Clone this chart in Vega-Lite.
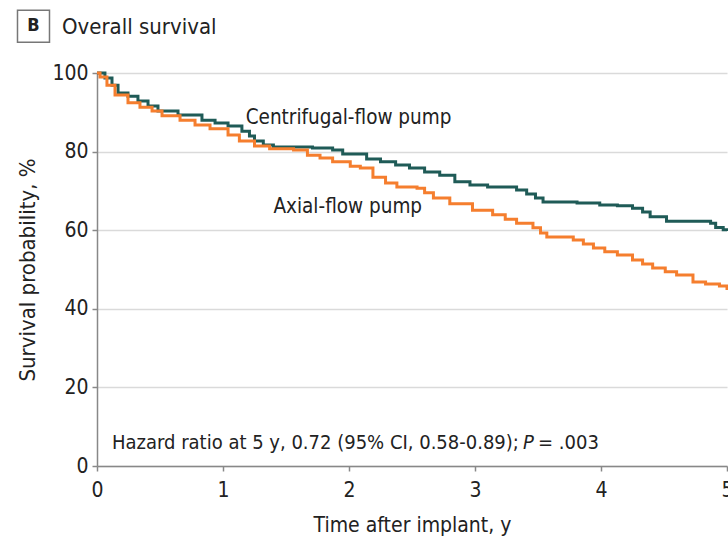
{
  "$schema": "https://vega.github.io/schema/vega-lite/v6.json",
  "width": 630,
  "height": 393,
  "autosize": {"type": "none"},
  "padding": {"left": 97, "top": 73, "right": 1, "bottom": 72},
  "background": "white",
  "config": {
    "font": "DejaVu Sans Condensed, sans-serif",
    "view": {"stroke": null},
    "axis": {
      "labelFont": "DejaVu Sans Condensed, sans-serif",
      "titleFont": "DejaVu Sans Condensed, sans-serif",
      "labelFontSize": 21,
      "titleFontSize": 21,
      "titleFontWeight": "normal",
      "labelColor": "#222",
      "titleColor": "#222",
      "domainColor": "#888",
      "tickColor": "#888",
      "domainWidth": 1.5,
      "tickWidth": 1.5,
      "tickSize": 5,
      "gridColor": "#dadada",
      "gridWidth": 1.5
    }
  },
  "datasets": {
    "km": [
      {"group": "Centrifugal-flow pump", "t": 0, "s": 100},
      {"group": "Centrifugal-flow pump", "t": 0.063, "s": 98.7},
      {"group": "Centrifugal-flow pump", "t": 0.119, "s": 96.9},
      {"group": "Centrifugal-flow pump", "t": 0.167, "s": 94.9},
      {"group": "Centrifugal-flow pump", "t": 0.246, "s": 94.1},
      {"group": "Centrifugal-flow pump", "t": 0.325, "s": 92.9},
      {"group": "Centrifugal-flow pump", "t": 0.405, "s": 91.6},
      {"group": "Centrifugal-flow pump", "t": 0.484, "s": 90.3},
      {"group": "Centrifugal-flow pump", "t": 0.643, "s": 89.3},
      {"group": "Centrifugal-flow pump", "t": 0.833, "s": 88.0},
      {"group": "Centrifugal-flow pump", "t": 0.937, "s": 87.3},
      {"group": "Centrifugal-flow pump", "t": 1.04, "s": 86.5},
      {"group": "Centrifugal-flow pump", "t": 1.15, "s": 85.2},
      {"group": "Centrifugal-flow pump", "t": 1.21, "s": 84.0},
      {"group": "Centrifugal-flow pump", "t": 1.25, "s": 82.7},
      {"group": "Centrifugal-flow pump", "t": 1.32, "s": 81.7},
      {"group": "Centrifugal-flow pump", "t": 1.40, "s": 81.2},
      {"group": "Centrifugal-flow pump", "t": 1.71, "s": 80.9},
      {"group": "Centrifugal-flow pump", "t": 1.87, "s": 80.4},
      {"group": "Centrifugal-flow pump", "t": 1.95, "s": 79.4},
      {"group": "Centrifugal-flow pump", "t": 2.14, "s": 78.1},
      {"group": "Centrifugal-flow pump", "t": 2.25, "s": 77.4},
      {"group": "Centrifugal-flow pump", "t": 2.37, "s": 76.6},
      {"group": "Centrifugal-flow pump", "t": 2.48, "s": 75.8},
      {"group": "Centrifugal-flow pump", "t": 2.60, "s": 74.8},
      {"group": "Centrifugal-flow pump", "t": 2.72, "s": 74.0},
      {"group": "Centrifugal-flow pump", "t": 2.84, "s": 72.3},
      {"group": "Centrifugal-flow pump", "t": 2.96, "s": 71.5},
      {"group": "Centrifugal-flow pump", "t": 3.10, "s": 71.0},
      {"group": "Centrifugal-flow pump", "t": 3.33, "s": 70.2},
      {"group": "Centrifugal-flow pump", "t": 3.41, "s": 69.2},
      {"group": "Centrifugal-flow pump", "t": 3.48, "s": 68.2},
      {"group": "Centrifugal-flow pump", "t": 3.54, "s": 67.2},
      {"group": "Centrifugal-flow pump", "t": 3.81, "s": 66.9},
      {"group": "Centrifugal-flow pump", "t": 3.99, "s": 66.4},
      {"group": "Centrifugal-flow pump", "t": 4.13, "s": 66.2},
      {"group": "Centrifugal-flow pump", "t": 4.25, "s": 65.6},
      {"group": "Centrifugal-flow pump", "t": 4.33, "s": 64.6},
      {"group": "Centrifugal-flow pump", "t": 4.39, "s": 63.4},
      {"group": "Centrifugal-flow pump", "t": 4.52, "s": 62.3},
      {"group": "Centrifugal-flow pump", "t": 4.87, "s": 61.8},
      {"group": "Centrifugal-flow pump", "t": 4.91, "s": 60.7},
      {"group": "Centrifugal-flow pump", "t": 4.97, "s": 60.1},
      {"group": "Centrifugal-flow pump", "t": 5.0, "s": 59.8},
      {"group": "Axial-flow pump", "t": 0, "s": 100},
      {"group": "Axial-flow pump", "t": 0.024, "s": 99.0},
      {"group": "Axial-flow pump", "t": 0.079, "s": 96.9},
      {"group": "Axial-flow pump", "t": 0.143, "s": 94.4},
      {"group": "Axial-flow pump", "t": 0.246, "s": 92.4},
      {"group": "Axial-flow pump", "t": 0.341, "s": 91.3},
      {"group": "Axial-flow pump", "t": 0.437, "s": 90.3},
      {"group": "Axial-flow pump", "t": 0.516, "s": 89.1},
      {"group": "Axial-flow pump", "t": 0.659, "s": 88.0},
      {"group": "Axial-flow pump", "t": 0.778, "s": 86.8},
      {"group": "Axial-flow pump", "t": 0.897, "s": 85.8},
      {"group": "Axial-flow pump", "t": 1.04, "s": 84.2},
      {"group": "Axial-flow pump", "t": 1.13, "s": 82.7},
      {"group": "Axial-flow pump", "t": 1.25, "s": 81.4},
      {"group": "Axial-flow pump", "t": 1.37, "s": 80.7},
      {"group": "Axial-flow pump", "t": 1.56, "s": 80.4},
      {"group": "Axial-flow pump", "t": 1.67, "s": 79.1},
      {"group": "Axial-flow pump", "t": 1.77, "s": 78.4},
      {"group": "Axial-flow pump", "t": 1.87, "s": 77.4},
      {"group": "Axial-flow pump", "t": 2.01, "s": 76.3},
      {"group": "Axial-flow pump", "t": 2.09, "s": 75.8},
      {"group": "Axial-flow pump", "t": 2.19, "s": 73.5},
      {"group": "Axial-flow pump", "t": 2.29, "s": 72.0},
      {"group": "Axial-flow pump", "t": 2.38, "s": 71.0},
      {"group": "Axial-flow pump", "t": 2.54, "s": 70.7},
      {"group": "Axial-flow pump", "t": 2.60, "s": 69.5},
      {"group": "Axial-flow pump", "t": 2.67, "s": 68.2},
      {"group": "Axial-flow pump", "t": 2.80, "s": 66.7},
      {"group": "Axial-flow pump", "t": 2.98, "s": 65.1},
      {"group": "Axial-flow pump", "t": 3.14, "s": 63.9},
      {"group": "Axial-flow pump", "t": 3.24, "s": 62.8},
      {"group": "Axial-flow pump", "t": 3.33, "s": 61.8},
      {"group": "Axial-flow pump", "t": 3.46, "s": 60.6},
      {"group": "Axial-flow pump", "t": 3.52, "s": 59.3},
      {"group": "Axial-flow pump", "t": 3.57, "s": 58.3},
      {"group": "Axial-flow pump", "t": 3.78, "s": 57.5},
      {"group": "Axial-flow pump", "t": 3.86, "s": 56.5},
      {"group": "Axial-flow pump", "t": 3.94, "s": 55.5},
      {"group": "Axial-flow pump", "t": 4.03, "s": 54.5},
      {"group": "Axial-flow pump", "t": 4.13, "s": 53.7},
      {"group": "Axial-flow pump", "t": 4.25, "s": 52.4},
      {"group": "Axial-flow pump", "t": 4.33, "s": 51.4},
      {"group": "Axial-flow pump", "t": 4.41, "s": 50.4},
      {"group": "Axial-flow pump", "t": 4.51, "s": 49.4},
      {"group": "Axial-flow pump", "t": 4.60, "s": 48.6},
      {"group": "Axial-flow pump", "t": 4.73, "s": 46.8},
      {"group": "Axial-flow pump", "t": 4.83, "s": 46.3},
      {"group": "Axial-flow pump", "t": 4.94, "s": 45.8},
      {"group": "Axial-flow pump", "t": 5.0, "s": 44.8}
    ]
  },
  "layer": [
    {
      "data": {"name": "km"},
      "mark": {"type": "line", "interpolate": "step-after", "strokeWidth": 3},
      "encoding": {
        "x": {
          "field": "t", "type": "quantitative",
          "scale": {"domain": [0, 5], "nice": false, "zero": false},
          "axis": {
            "title": "Time after implant, y",
            "values": [0, 1, 2, 3, 4, 5],
            "format": "d",
            "grid": false,
            "labelFlush": false,
            "labelPadding": 8,
            "titlePadding": 14
          }
        },
        "y": {
          "field": "s", "type": "quantitative",
          "scale": {"domain": [0, 100], "nice": false},
          "axis": {
            "title": "Survival probability, %",
            "titleFontSize": 22,
            "values": [0, 20, 40, 60, 80, 100],
            "format": "d",
            "grid": true,
            "labelPadding": 4,
            "titlePadding": 12
          }
        },
        "color": {
          "field": "group", "type": "nominal",
          "scale": {"domain": ["Centrifugal-flow pump", "Axial-flow pump"], "range": ["#1f5b57", "#f57e2e"]},
          "legend": null
        },
        "order": {"field": "t", "type": "quantitative"}
      }
    },
    {
      "data": {"values": [{}]},
      "mark": {"type": "text", "align": "left", "baseline": "middle", "fontSize": 20.5, "color": "#222"},
      "encoding": {"x": {"datum": 1.18}, "y": {"datum": 88.5}, "text": {"value": "Centrifugal-flow pump"}}
    },
    {
      "data": {"values": [{}]},
      "mark": {"type": "text", "align": "left", "baseline": "middle", "fontSize": 20.5, "color": "#222"},
      "encoding": {"x": {"datum": 1.40}, "y": {"datum": 65.9}, "text": {"value": "Axial-flow pump"}}
    },
    {
      "data": {"values": [{}]},
      "mark": {"type": "text", "align": "left", "baseline": "middle", "fontSize": 20, "color": "#222"},
      "encoding": {"x": {"datum": 0.119}, "y": {"datum": 5.9}, "text": {"value": "Hazard ratio at 5 y, 0.72 (95% CI, 0.58-0.89);"}}
    },
    {
      "data": {"values": [{}]},
      "mark": {"type": "text", "align": "left", "baseline": "middle", "fontSize": 20, "fontStyle": "italic", "color": "#222"},
      "encoding": {"x": {"datum": 3.381}, "y": {"datum": 5.9}, "text": {"value": "P"}}
    },
    {
      "data": {"values": [{}]},
      "mark": {"type": "text", "align": "left", "baseline": "middle", "fontSize": 20, "color": "#222"},
      "encoding": {"x": {"datum": 3.50}, "y": {"datum": 5.9}, "text": {"value": "= .003"}}
    },
    {
      "data": {"values": [{}]},
      "mark": {"type": "point", "shape": "square", "size": 1024, "filled": false, "stroke": "#777", "strokeWidth": 1.5, "opacity": 1},
      "encoding": {"x": {"datum": -0.504}, "y": {"datum": 111.9}}
    },
    {
      "data": {"values": [{}]},
      "mark": {"type": "text", "align": "center", "baseline": "middle", "fontSize": 18, "fontWeight": "bold", "color": "#222"},
      "encoding": {"x": {"datum": -0.504}, "y": {"datum": 111.9}, "text": {"value": "B"}}
    },
    {
      "data": {"values": [{}]},
      "mark": {"type": "text", "align": "left", "baseline": "middle", "fontSize": 22, "color": "#222"},
      "encoding": {"x": {"datum": -0.278}, "y": {"datum": 111.7}, "text": {"value": "Overall survival"}}
    }
  ]
}
